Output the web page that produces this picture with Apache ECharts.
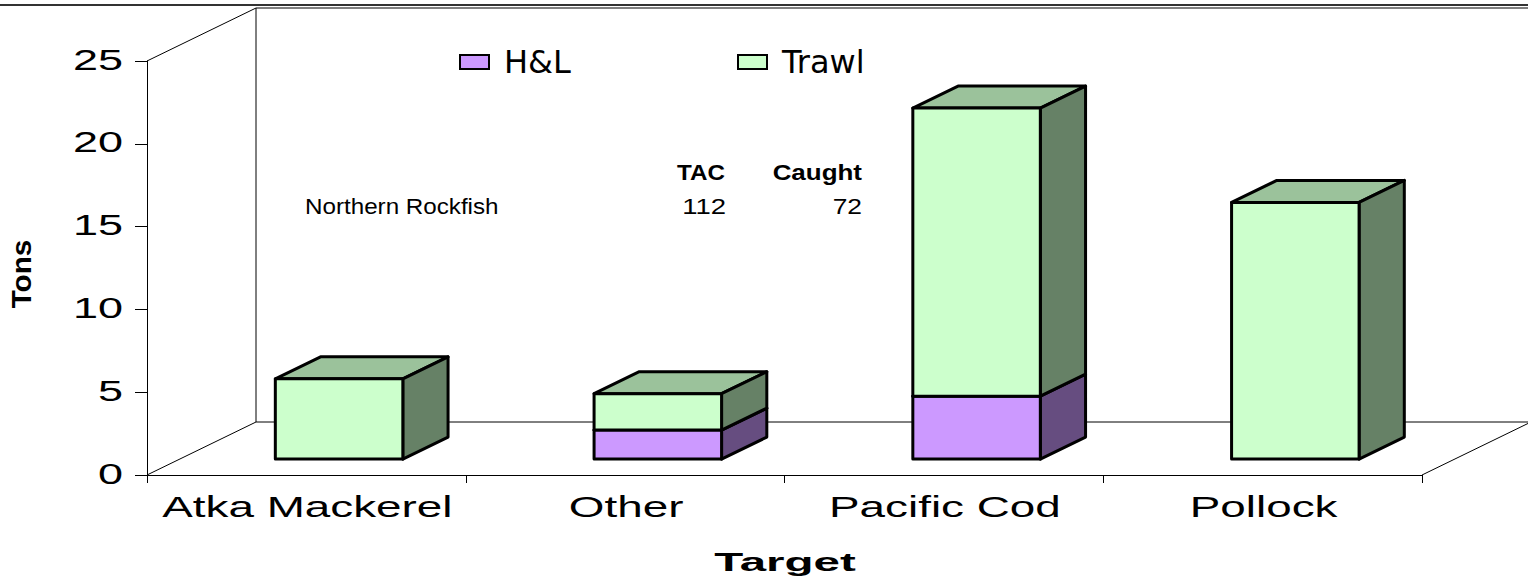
<!DOCTYPE html>
<html>
<head>
<meta charset="utf-8">
<title>Northern Rockfish bycatch by target</title>
<script src="https://cdn.jsdelivr.net/npm/echarts@6/dist/echarts.min.js"></script>
<style>
html, body { margin: 0; padding: 0; background: #fff; }
#main { width: 1528px; height: 584px; }
</style>
</head>
<body>
<div id="main"></div>
<script>
// values (tons)
var categories = ['Atka Mackerel', 'Other', 'Pacific Cod', 'Pollock'];
var hlValues = [0, 1.75, 3.8, 0];
var trawlValues = [4.85, 2.2, 17.4, 15.5];
var yTicks = [0, 5, 10, 15, 20, 25];
var noteName = 'Northern Rockfish';
var noteTac = 112;
var noteCaught = 72;

var FONT = '"Liberation Sans", Arial, sans-serif';
var DEPTH = [109, -53];       // depth offset of the 3d floor
var FRONT = 0.30, BACK = 0.715; // where the boxes sit in the depth
var STRETCH = 1.58;           // the old chart has wide text

var myChart = echarts.init(document.getElementById('main'), null, {renderer: 'svg'});

// one 3d box from v0 to v1
function boxItem(params, api, faces) {
  var cat = api.value(0), v0 = api.value(1), v1 = api.value(2);
  if (v1 - v0 <= 0) return null;
  var p0 = api.coord([cat, v0]);
  var p1 = api.coord([cat, v1]);
  var w = api.size([1, 0])[0] * 0.4;
  var left = p0[0] - w / 2 + DEPTH[0] * FRONT;
  var right = left + w;
  var bottom = p0[1] + DEPTH[1] * FRONT;
  var top = p1[1] + DEPTH[1] * FRONT;
  var ddx = DEPTH[0] * (BACK - FRONT), ddy = DEPTH[1] * (BACK - FRONT);
  function st(fill) {
    return {fill: fill, stroke: '#000', lineWidth: 3, lineJoin: 'round'};
  }
  return {
    type: 'group',
    children: [
      {type: 'polygon', shape: {points: [[left, top], [right, top], [right + ddx, top + ddy], [left + ddx, top + ddy]]}, style: st(faces[1])},
      {type: 'polygon', shape: {points: [[right, top], [right + ddx, top + ddy], [right + ddx, bottom + ddy], [right, bottom]]}, style: st(faces[2])},
      {type: 'rect', shape: {x: left, y: top, width: w, height: bottom - top}, style: st(faces[0])}
    ]
  };
}

// back wall + floor lines
function frameItem(params, api) {
  var cs = params.coordSys;
  var x0 = cs.x, y0 = cs.y, x1 = cs.x + cs.width, y1 = cs.y + cs.height;
  var dx = DEPTH[0], dy = DEPTH[1];
  var segs = [
    [x0, y0, x0 + dx, y0 + dy],
    [x0, y1, x0 + dx, y1 + dy],
    [x0 + dx, y0 + dy, x0 + dx, y1 + dy],
    [x0 + dx, y0 + dy, x1 + dx, y0 + dy],
    [x0 + dx, y1 + dy, x1 + dx, y1 + dy],
    [x1, y1, x1 + dx, y1 + dy]
  ];
  return {
    type: 'group',
    children: segs.map(function (s) {
      return {type: 'line', shape: {x1: s[0], y1: s[1], x2: s[2], y2: s[3]}, style: {stroke: '#000', lineWidth: 1}};
    })
  };
}

var legendBase = {
  icon: 'rect',
  itemWidth: 29,
  itemHeight: 14,
  top: 41,
  itemStyle: {borderColor: '#000', borderWidth: 2},
  textStyle: {fontSize: 32, fontFamily: '"DejaVu Sans", sans-serif', color: '#000', padding: [0, 0, 0, 10]}
};

var option = {
  backgroundColor: '#fff',
  animation: false,
  grid: {left: 147, right: 106, top: 61, bottom: 109},
  legend: [
    Object.assign({data: ['H&L'], left: 454}, legendBase),
    Object.assign({data: ['Trawl'], left: 732}, legendBase)
  ],
  xAxis: {
    type: 'category',
    data: categories,
    axisLine: {show: true, lineStyle: {color: '#000', width: 1}},
    axisTick: {show: true, length: 8, lineStyle: {color: '#000'}},
    axisLabel: {show: false},
    splitLine: {show: false}
  },
  yAxis: {
    type: 'value',
    min: 0,
    max: 25,
    interval: 5,
    axisLine: {show: true, lineStyle: {color: '#000', width: 1}},
    axisTick: {show: true, length: 12, lineStyle: {color: '#000'}},
    axisLabel: {show: false},
    splitLine: {show: false}
  },
  graphic: [
    {type: 'line', shape: {x1: 0, y1: 5, x2: 1528, y2: 5}, style: {stroke: '#333', lineWidth: 2}},
    {type: 'text', x: 21, y: 274, rotation: Math.PI / 2, scaleX: 1.1,
      style: {text: 'Tons', fontSize: 27, fontWeight: 'bold', fontFamily: FONT, fill: '#000', align: 'center', verticalAlign: 'middle'}},
    {type: 'text', x: 785, y: 562, scaleX: 1.9,
      style: {text: 'Target', fontSize: 25, fontWeight: 'bold', fontFamily: FONT, fill: '#000', align: 'center', verticalAlign: 'middle'}},
    {type: 'text', x: 725, y: 172, scaleX: 1.1,
      style: {text: 'TAC', fontSize: 22, fontWeight: 'bold', fontFamily: FONT, fill: '#000', align: 'right', verticalAlign: 'middle'}},
    {type: 'text', x: 862, y: 172, scaleX: 1.18,
      style: {text: 'Caught', fontSize: 22, fontWeight: 'bold', fontFamily: FONT, fill: '#000', align: 'right', verticalAlign: 'middle'}},
    {type: 'text', x: 305, y: 206, scaleX: 1.1,
      style: {text: noteName, fontSize: 22, fontFamily: FONT, fill: '#000', align: 'left', verticalAlign: 'middle'}},
    {type: 'text', x: 726, y: 206, scaleX: 1.25,
      style: {text: String(noteTac), fontSize: 22, fontFamily: FONT, fill: '#000', align: 'right', verticalAlign: 'middle'}},
    {type: 'text', x: 862, y: 206, scaleX: 1.2,
      style: {text: String(noteCaught), fontSize: 22, fontFamily: FONT, fill: '#000', align: 'right', verticalAlign: 'middle'}}
  ],
  series: [
    {
      name: 'frame',
      type: 'custom',
      silent: true,
      data: [[0, 0]],
      renderItem: frameItem
    },
    {
      name: 'H&L',
      type: 'custom',
      itemStyle: {color: '#CC99FF'},
      data: categories.map(function (c, i) { return [i, 0, hlValues[i]]; }),
      renderItem: function (params, api) {
        return boxItem(params, api, ['#CC99FF', '#9C7AC2', '#664D80']);
      }
    },
    {
      name: 'Trawl',
      type: 'custom',
      itemStyle: {color: '#CCFFCC'},
      data: categories.map(function (c, i) { return [i, hlValues[i], hlValues[i] + trawlValues[i]]; }),
      renderItem: function (params, api) {
        return boxItem(params, api, ['#CCFFCC', '#9BC29B', '#668166']);
      }
    },
    {
      // category labels under the front floor
      name: 'xLabels',
      type: 'custom',
      silent: true,
      data: categories.map(function (c, i) { return [i, 0]; }),
      renderItem: function (params, api) {
        var p = api.coord([api.value(0), 0]);
        return {
          type: 'text', x: p[0] + 1, y: p[1] + 32, scaleX: STRETCH,
          style: {text: categories[params.dataIndex], fontSize: 29, fontFamily: FONT, fill: '#000', align: 'center', verticalAlign: 'middle'}
        };
      }
    },
    {
      // value labels left of the y axis
      name: 'yLabels',
      type: 'custom',
      silent: true,
      data: yTicks.map(function (v) { return [0, v]; }),
      renderItem: function (params, api) {
        var p = api.coord([0, api.value(1)]);
        return {
          type: 'text', x: params.coordSys.x - 24, y: p[1] - 2, scaleX: 1.5,
          style: {text: String(yTicks[params.dataIndex]), fontSize: 30, fontFamily: FONT, fill: '#000', align: 'right', verticalAlign: 'middle'}
        };
      }
    }
  ]
};

myChart.setOption(option);
window.addEventListener('resize', function () {
  myChart.resize();
});
</script>
</body>
</html>
